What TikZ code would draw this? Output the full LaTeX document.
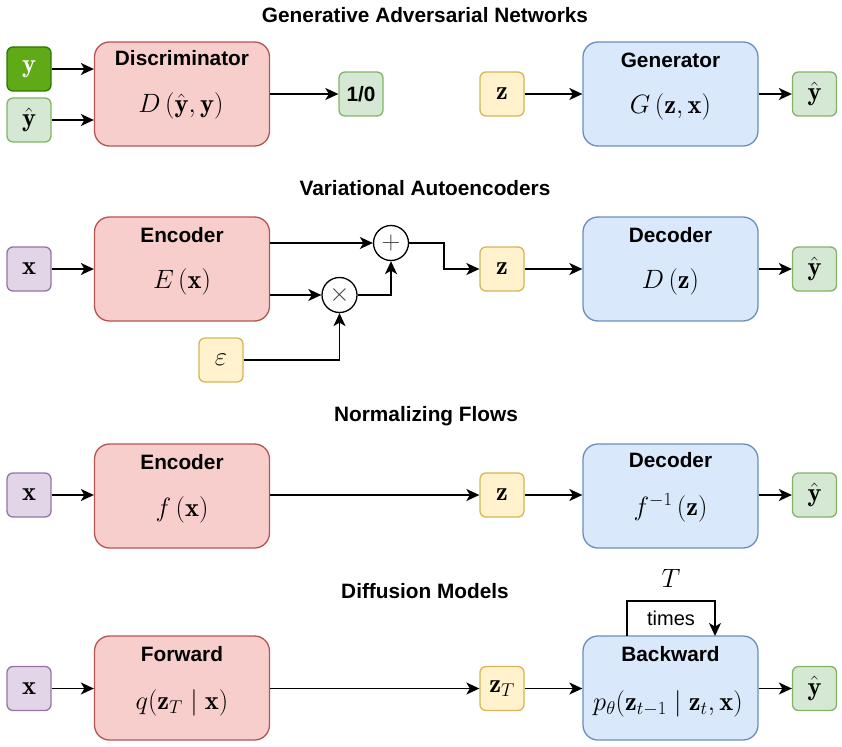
\RequirePackage{fix-cm}
\documentclass[tikz,border=0pt]{standalone}
\usepackage{amsmath}
\usepackage{fontspec}
\newfontfamily\lsans{Liberation Sans}
\usetikzlibrary{arrows.meta,calc}
\definecolor{redf}{HTML}{F8CECC}
\definecolor{redd}{HTML}{B85450}
\definecolor{bluef}{HTML}{DAE8FC}
\definecolor{blued}{HTML}{6C8EBF}
\definecolor{greenf}{HTML}{D5E8D4}
\definecolor{greend}{HTML}{82B366}
\definecolor{dgreenf}{HTML}{60A917}
\definecolor{dgreend}{HTML}{2D7600}
\definecolor{yellowf}{HTML}{FFF2CC}
\definecolor{yellowd}{HTML}{D6B656}
\definecolor{purplef}{HTML}{E1D5E7}
\definecolor{purpled}{HTML}{9673A6}
\begin{document}
\begin{tikzpicture}[x=1pt,y=-1pt,
  box/.style={draw, line width=1.3pt, rounded corners=15pt, minimum width=175pt, minimum height=104pt, inner sep=0pt},
  redbox/.style={box, fill=redf, draw=redd},
  bluebox/.style={box, fill=bluef, draw=blued},
  sbox/.style={draw, line width=1.3pt, rounded corners=6pt, minimum width=44pt, minimum height=44pt, inner sep=0pt, font=\fontsize{26.5}{30}\selectfont},
  greenbox/.style={sbox, fill=greenf, draw=greend},
  yellowbox/.style={sbox, fill=yellowf, draw=yellowd},
  purplebox/.style={sbox, fill=purplef, draw=purpled},
  lab/.style={font=\lsans\bfseries\fontsize{20.8}{24}\selectfont, inner sep=0pt},
  mth/.style={font=\fontsize{26.5}{30}\selectfont, inner sep=0pt},
  opcirc/.style={circle, draw, line width=1.3pt, fill=white, minimum size=35pt, inner sep=0pt, font=\fontsize{26}{30}\selectfont, text=black!75},
  arr/.style={line width=1.5pt, -{Stealth[length=13pt,width=12pt,inset=3.5pt]}}
]
\useasboundingbox (0,0) rectangle (842,746);

% ---------- titles ----------
\node[lab] (t1) at (425,15) {Generative Adversarial Networks};
\node[lab] (t2) at (425,188) {Variational Autoencoders};
\node[lab] (t3) at (426,416) {Normalizing Flows};
\node[lab] (t4) at (425,591) {Diffusion Models};

% ---------- row 1: GAN ----------
\node[redbox] (disc) at (182,94) {};
\node[lab] (discl) at (182,58) {Discriminator};
\node[mth] (discm) at (181,106) {$D\left(\hat{\mathbf{y}},\mathbf{y}\right)$};
\node[sbox, fill=dgreenf, draw=dgreend, text=white] (yin) at (29,69) {$\mathbf{y}$};
\node[greenbox] (yhin) at (29,120) {$\hat{\mathbf{y}}$};
\node[greenbox, font=\lsans\bfseries\fontsize{20.8}{24}\selectfont] (out) at (361,94) {1/0};
\draw[arr] (yin.east) -- (yin.east -| disc.west);
\draw[arr] (yhin.east) -- (yhin.east -| disc.west);
\draw[arr] (disc.east) -- (out.west);

\node[bluebox] (gen) at (670.5,94) {};
\node[lab] (genl) at (670.5,60) {Generator};
\node[mth] (genm) at (670.5,107) {$G\left(\mathbf{z},\mathbf{x}\right)$};
\node[yellowbox] (zg) at (502,94) {$\mathbf{z}$};
\node[greenbox] (yg) at (814.5,94) {$\hat{\mathbf{y}}$};
\draw[arr] (zg.east) -- (gen.west);
\draw[arr] (gen.east) -- (yg.west);

% ---------- row 2: VAE ----------
\node[redbox] (enc) at (182,269) {};
\node[lab] (encl) at (182,235) {Encoder};
\node[mth] (encm) at (182,282) {$E\left(\mathbf{x}\right)$};
\node[purplebox] (xv) at (29,269) {$\mathbf{x}$};
\draw[arr] (xv.east) -- (enc.west);
\node[opcirc] (plus) at (391,243) {$+$};
\node[opcirc] (times) at (339.5,295) {$\times$};
\node[yellowbox] (eps) at (221,360) {$\varepsilon$};
\node[yellowbox] (zv) at (502,269) {$\mathbf{z}$};
\draw[arr] (enc.east |- plus) -- (plus.west);
\draw[arr] (enc.east |- times) -- (times.west);
\draw[arr] (eps.east) -| (times.south);
\draw[arr] (times.east) -| (plus.south);
\draw[arr] (plus.east) -- ++(35,0) |- (zv.west);
\node[bluebox] (dec) at (670.5,269) {};
\node[lab] (decl) at (670.5,235) {Decoder};
\node[mth] (decm) at (670.5,282) {$D\left(\mathbf{z}\right)$};
\node[greenbox] (yv) at (814.5,269) {$\hat{\mathbf{y}}$};
\draw[arr] (zv.east) -- (dec.west);
\draw[arr] (dec.east) -- (yv.west);

% ---------- row 3: Normalizing flows ----------
\node[redbox] (encf) at (182,496) {};
\node[lab] (encfl) at (182,462) {Encoder};
\node[mth] (encfm) at (182,510) {$f\left(\mathbf{x}\right)$};
\node[purplebox] (xf) at (29,495) {$\mathbf{x}$};
\node[yellowbox] (zf) at (502,495) {$\mathbf{z}$};
\node[bluebox] (decf) at (670.5,496) {};
\node[lab] (decfl) at (670.5,460) {Decoder};
\node[mth] (decfm) at (670.5,508) {$f^{-1}\left(\mathbf{z}\right)$};
\node[greenbox] (yf) at (814.5,495) {$\hat{\mathbf{y}}$};
\draw[arr] (xf.east) -- (xf.east -| encf.west);
\draw[arr] (zf.west -| encf.east) -- (zf.west);
\draw[arr] (zf.east) -- (zf.east -| decf.west);
\draw[arr] (yf.west -| decf.east) -- (yf.west);

% ---------- row 4: Diffusion ----------
\node[redbox] (fwd) at (182,688) {};
\node[lab] (fwdl) at (182,654) {Forward};
\node[mth] (fwdm) at (182,703) {$q{\left(\mathbf{z}_T \;\middle|\; \mathbf{x}\right)}$};
\node[purplebox] (xd) at (29,688.5) {$\mathbf{x}$};
\node[yellowbox] (zd) at (502,688.5) {$\mathbf{z}_T$};
\node[bluebox] (bwd) at (670.5,688) {};
\node[lab] (bwdl) at (670.5,654) {Backward};
\node[mth] (bwdm) at (668,704) {$p_\theta{\left(\mathbf{z}_{t-1} \;\middle|\; \mathbf{z}_t,\mathbf{x}\right)}$};
\node[greenbox] (yd) at (814.5,688.5) {$\hat{\mathbf{y}}$};
\draw[arr] (xd.east) -- (xd.east -| fwd.west);
\draw[arr] (zd.west -| fwd.east) -- (zd.west);
\draw[arr] (zd.east) -- (zd.east -| bwd.west);
\draw[arr] (yd.west -| bwd.east) -- (yd.west);
\coordinate (loopa) at (627,636);
\coordinate (loopb) at (715,636);
\draw[arr] (loopa) -- ++(0,-35) -| (loopb);
\node[font=\lsans\fontsize{20}{24}\selectfont, inner sep=0pt] (timesl) at (671,618) {times};
\node[mth] (tl) at (671,578) {$T$};
\end{tikzpicture}
\end{document}
